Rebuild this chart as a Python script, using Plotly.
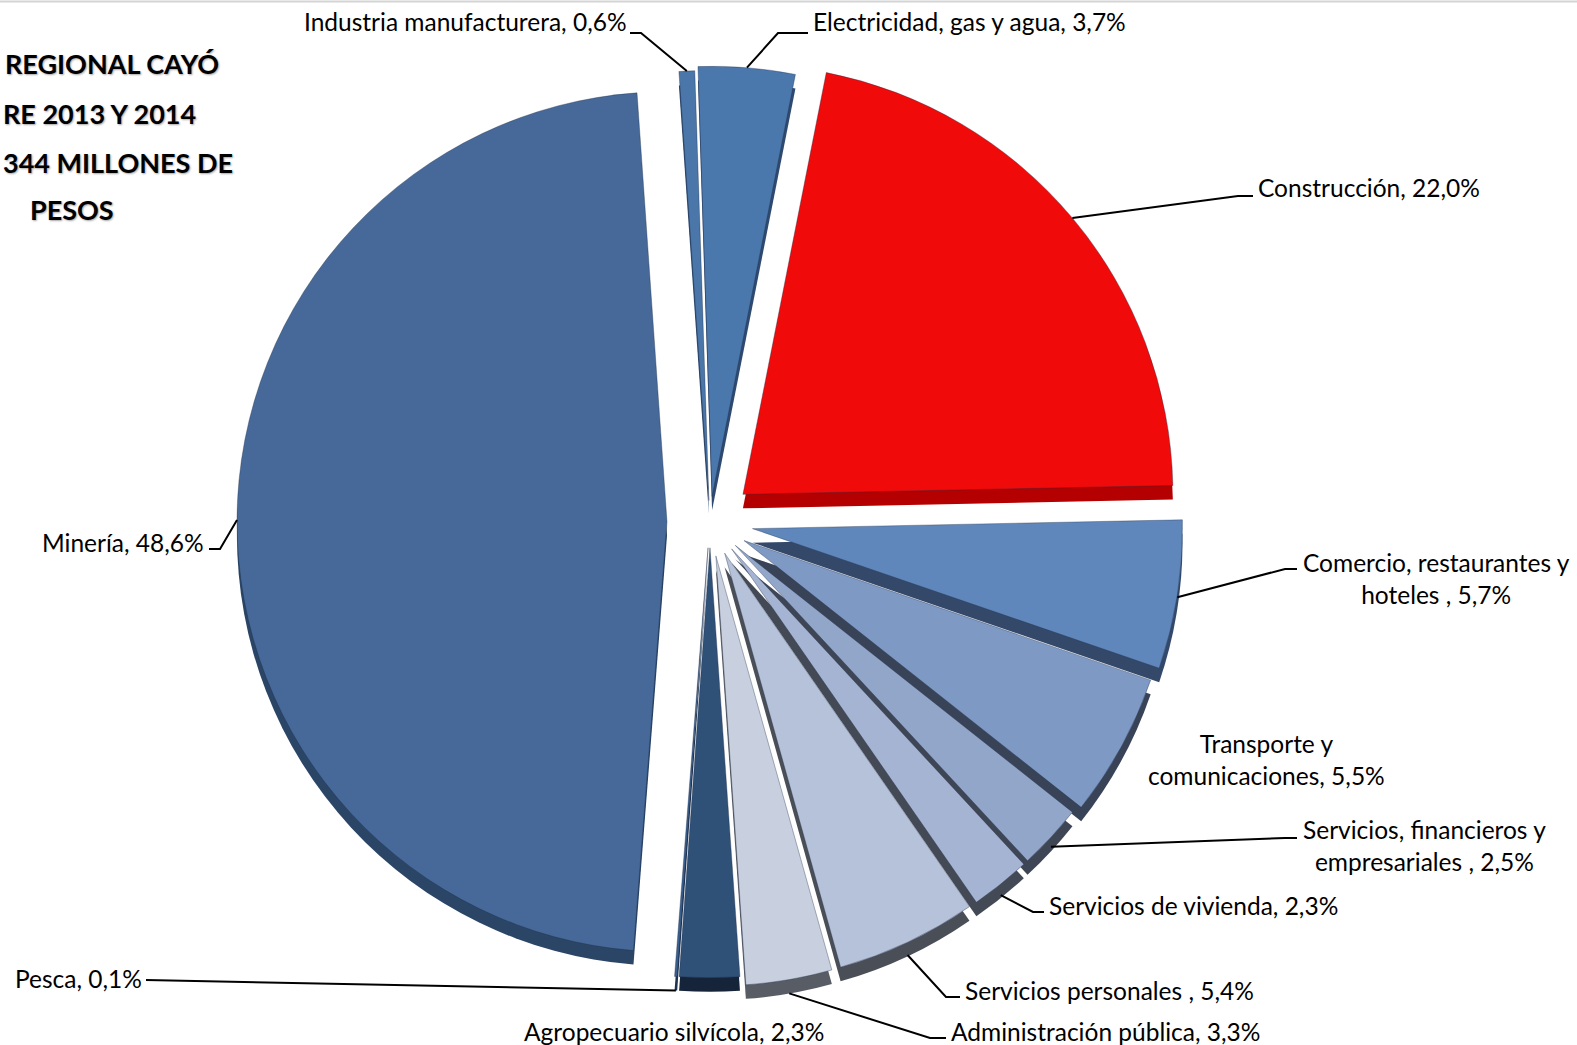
import math
import plotly.graph_objects as go

# ---------------- data ----------------
categories = ["Industria manufacturera", "Electricidad, gas y agua", "Construcción",
              "Comercio, restaurantes y hoteles ", "Transporte y comunicaciones",
              "Servicios, financieros y empresariales ", "Servicios de vivienda",
              "Servicios personales ", "Administración pública", "Agropecuario silvícola",
              "Pesca", "Minería"]
shares = [0.6, 3.7, 22.0, 5.7, 5.5, 2.5, 2.3, 5.4, 3.3, 2.3, 0.1, 48.6]
label_texts = ["Industria manufacturera, 0,6%", "Electricidad, gas y agua, 3,7%",
               "Construcción, 22,0%", "Comercio, restaurantes y<br>hoteles , 5,7%",
               "Transporte y<br>comunicaciones, 5,5%",
               "Servicios, financieros y<br>empresariales , 2,5%",
               "Servicios de vivienda, 2,3%", "Servicios personales , 5,4%",
               "Administración pública, 3,3%", "Agropecuario silvícola, 2,3%",
               "Pesca, 0,1%", "Minería, 48,6%"]
title_lines = ["REGIONAL CAYÓ", "RE 2013 Y 2014", "344 MILLONES DE", "PESOS"]

# ---------------- styles ----------------
face_colors = ["#4A76AA", "#4A77AC", "#F00A0A", "#5F87BC", "#7E99C4", "#92A6CA",
               "#A4B4D2", "#B5C2DA", "#C8D0DF", "#2F5077", "#3A6090", "#46699A"]
side_colors = ["#2E4A70", "#2E4A70", "#B40000", "#34496A", "#394357", "#3E4554",
               "#444A55", "#4A4E57", "#585C64", "#16243A", "#1E3350", "#2A4566"]
pulls = [0.05, 0.06, 0.10, 0.10, 0.09, 0.08, 0.08, 0.08, 0.08, 0.06, 0.06, 0.10]

W, H = 1577, 1045
CX, CY, R = 710, 522, 430
DEPTH = 14
ROT = -4
LABEL_FONT = dict(family="Lato, Carlito, 'Open Sans', sans-serif", size=24.5, color="black")

# label placement (pixels): text x, text y, xanchor, leader start, leader elbow
label_layout = [
    (629, 22, "right", (630, 33), (641, 33)),
    (811, 22, "left", (808, 33), (778, 33)),
    (1256, 188, "left", (1253, 196), (1238, 196)),
    (1436, 578, "center", (1297, 569), (1285, 569)),
    (1266, 759, "center", None, None),
    (1424, 845, "center", (1297, 838), (1285, 838)),
    (1047, 905, "left", (1044, 912), (1033, 912)),
    (963, 990, "left", (960, 997), (946, 997)),
    (949, 1031, "left", (946, 1038), (930, 1038)),
    (674, 1031, "center", None, None),
    (13, 978, "left", (146, 980), None),
    (206, 542, "right", (209, 549), (220, 549)),
]


def px(x, y):
    return x / W, 1 - y / H


maxpull = max(pulls)
box = 2 * R * (1 + maxpull)


def domain(cy):
    return dict(x=[(CX - box / 2) / W, (CX + box / 2) / W],
                y=[(H - cy - box / 2) / H, (H - cy + box / 2) / H])


common = dict(values=shares, labels=categories, sort=False, direction="clockwise",
              rotation=ROT, pull=pulls, textinfo="none", hoverinfo="label+percent",
              showlegend=False)

fig = go.Figure()
fig.add_trace(go.Pie(**common, marker=dict(colors=side_colors, line=dict(width=0)),
                     domain=domain(CY + DEPTH)))
fig.add_trace(go.Pie(**common, marker=dict(colors=face_colors,
                                           line=dict(width=0.8, color="rgba(30,45,70,0.45)")),
                     domain=domain(CY)))

# leader lines and labels
total = sum(shares)
cum = 0.0
shapes = []
annotations = []
for i, v in enumerate(shares):
    mid = math.radians(ROT + 360 * (cum + v / 2) / total)
    cum += v
    rr = R * (1 + pulls[i])
    ax = CX + rr * math.sin(mid)
    ay = CY - rr * math.cos(mid) + DEPTH * max(0.0, -math.cos(mid))
    tx, ty, anchor, start, elbow = label_layout[i]
    annotations.append(dict(x=tx / W, y=1 - ty / H, xref="paper", yref="paper",
                            text=label_texts[i], showarrow=False, xanchor=anchor,
                            yanchor="middle", align="center", font=LABEL_FONT))
    if start is not None:
        pts = [start] + ([elbow] if elbow else []) + [(ax, ay)]
        path = "M " + " L ".join(f"{px(x, y)[0]:.5f},{px(x, y)[1]:.5f}" for x, y in pts)
        shapes.append(dict(type="path", xref="paper", yref="paper", path=path,
                           line=dict(color="black", width=2)))

# title fragments (as visible at the left edge)
title_font = dict(family="Lato, Carlito, sans-serif", size=27, color="black", weight="bold",
                  shadow="1px 1px 2px rgba(0,0,0,0.35)")
title_pos = [(3, 63, "left"), (1, 113, "left"), (1, 162, "left"), (72, 210, "center")]
for t, (x, y, a) in zip(title_lines, title_pos):
    annotations.append(dict(x=x / W, y=1 - y / H, xref="paper", yref="paper", text=t,
                            showarrow=False, xanchor=a, yanchor="middle", font=title_font))

shapes.append(dict(type="line", xref="paper", yref="paper", x0=0, x1=1, y0=1 - 1.5 / H,
                   y1=1 - 1.5 / H, line=dict(color="#D4D4D4", width=2)))

fig.update_layout(width=W, height=H, margin=dict(l=0, r=0, t=0, b=0),
                  paper_bgcolor="white", plot_bgcolor="white",
                  shapes=shapes, annotations=annotations)

fig.write_html("out.html")
